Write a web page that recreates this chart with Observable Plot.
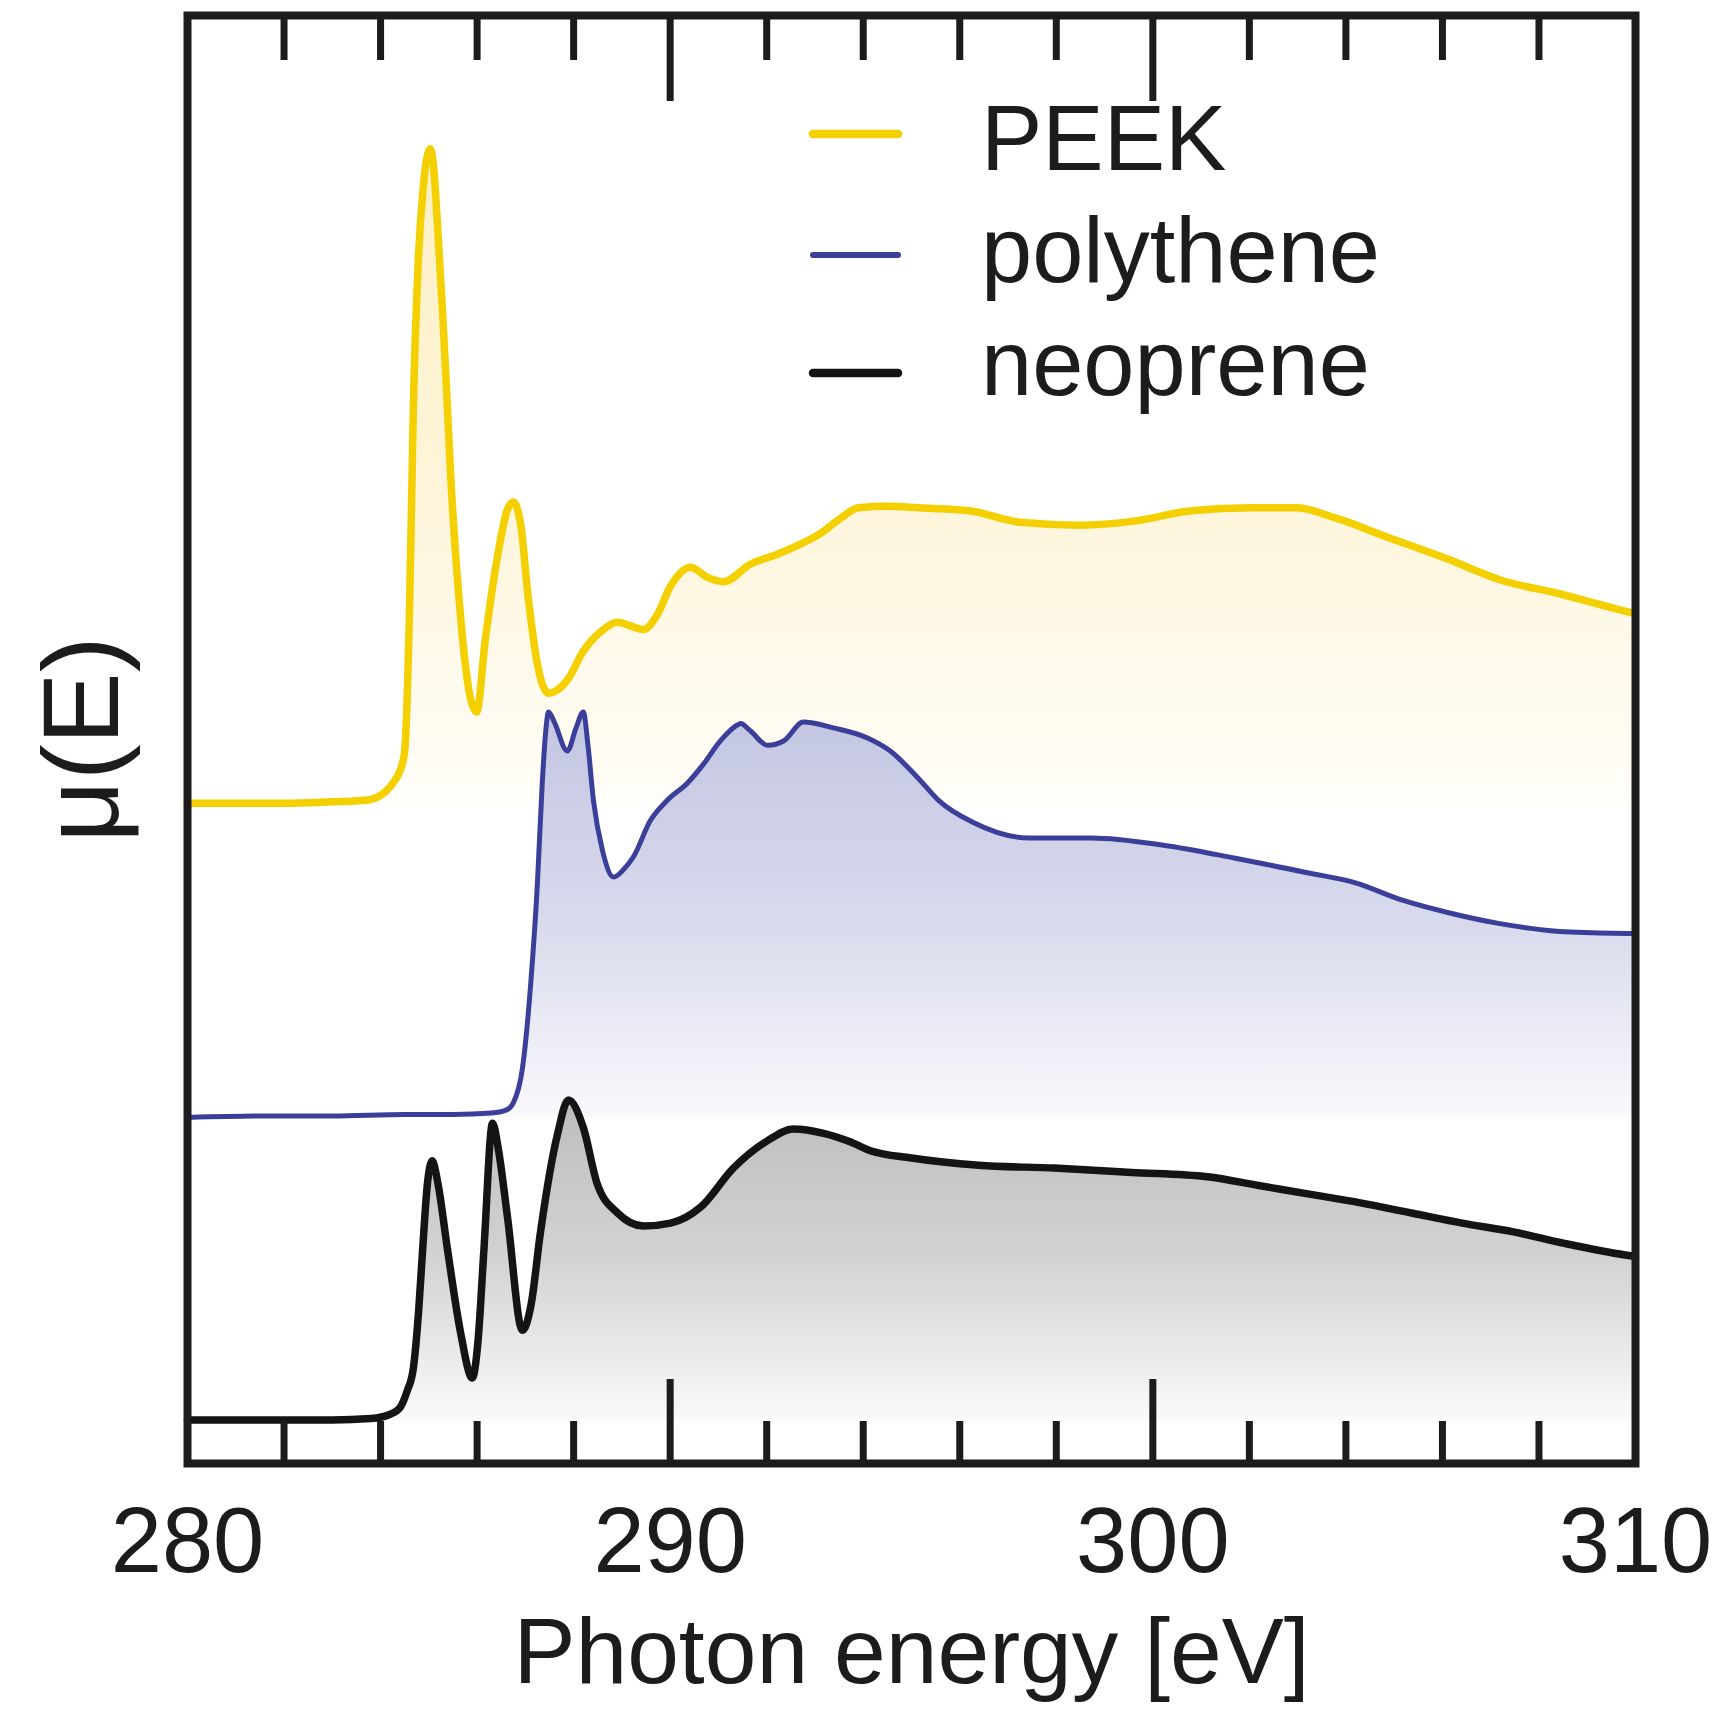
<!DOCTYPE html>
<html>
<head>
<meta charset="utf-8">
<script src="https://cdn.jsdelivr.net/npm/d3@7"></script>
<script src="https://cdn.jsdelivr.net/npm/@observablehq/plot@0.6"></script>
<style>
  html, body { margin: 0; padding: 0; background: #fff; }
  #chart { width: 1722px; height: 1712px; }
</style>
</head>
<body>
<div id="chart"></div>
<script>
// C K-edge absorption spectra, vertically offset (arbitrary units)
const seriesNames = ["PEEK", "polythene", "neoprene"];

const peekEnergy = [280.0, 281.0, 282.0, 283.0, 283.7, 284.1, 284.3, 284.42, 284.5, 284.6, 284.68, 284.78, 284.88, 284.96, 285.03, 285.1, 285.18, 285.28, 285.37, 285.45, 285.55, 285.66, 285.77, 285.86, 285.99, 286.17, 286.42, 286.62, 286.75, 286.9, 287.06, 287.25, 287.48, 287.87, 288.2, 288.62, 288.9, 289.45, 289.73, 290.01, 290.42, 290.77, 291.11, 291.66, 292.22, 292.7, 293.1, 293.5, 293.9, 294.5, 295.16, 296.2, 297.24, 298.5, 299.64, 300.8, 302.06, 302.97, 303.78, 304.92, 306.08, 307.22, 308.38, 309.87, 310.0];
const peekMu = [4.56, 4.56, 4.56, 4.57, 4.58, 4.64, 4.72, 4.8, 4.92, 5.9, 7.3, 8.3, 8.8, 9.02, 9.08, 8.95, 8.55, 7.98, 7.4, 6.84, 6.3, 5.84, 5.48, 5.29, 5.19, 5.69, 6.26, 6.58, 6.64, 6.49, 5.98, 5.52, 5.32, 5.41, 5.61, 5.76, 5.81, 5.76, 5.86, 6.06, 6.19, 6.12, 6.09, 6.21, 6.28, 6.35, 6.42, 6.52, 6.6, 6.61, 6.6, 6.58, 6.5, 6.48, 6.51, 6.58, 6.6, 6.6, 6.53, 6.39, 6.25, 6.1, 6.01, 5.88, 5.87];

const polytheneEnergy = [280.0, 281.5, 283.0, 284.5, 285.5, 286.3, 286.6, 286.75, 286.94, 287.11, 287.25, 287.35, 287.42, 287.48, 287.6, 287.87, 288.05, 288.2, 288.3, 288.41, 288.6, 288.83, 289.03, 289.24, 289.59, 289.94, 290.36, 290.69, 291.04, 291.39, 291.46, 291.66, 292.02, 292.35, 292.76, 293.38, 294.09, 294.56, 295.12, 295.56, 296.26, 297.44, 298.73, 300.22, 301.71, 303.2, 304.2, 305.17, 306.17, 307.16, 308.65, 309.83, 310.0];
const polytheneMu = [2.39, 2.4, 2.4, 2.41, 2.41, 2.42, 2.44, 2.49, 2.73, 3.31, 4.01, 4.7, 5.05, 5.19, 5.12, 4.92, 5.08, 5.19, 4.95, 4.58, 4.23, 4.05, 4.1, 4.19, 4.44, 4.58, 4.7, 4.83, 4.99, 5.1, 5.11, 5.06, 4.96, 4.99, 5.12, 5.08, 5.01, 4.92, 4.74, 4.58, 4.43, 4.32, 4.32, 4.27, 4.18, 4.08, 4.01, 3.89, 3.8, 3.73, 3.67, 3.66, 3.66];

const neopreneEnergy = [280.0, 281.5, 283.0, 283.8, 284.2, 284.41, 284.55, 284.68, 284.79, 284.87, 284.97, 285.07, 285.18, 285.39, 285.66, 285.9, 286.02, 286.14, 286.32, 286.45, 286.63, 286.94, 287.12, 287.31, 287.67, 287.89, 288.2, 288.49, 288.91, 289.45, 290.01, 290.63, 291.31, 292.02, 292.55, 293.18, 293.74, 294.15, 295.0, 296.39, 297.96, 299.56, 301.13, 302.19, 303.24, 304.3, 305.36, 306.41, 307.47, 308.53, 309.79, 310.0];
const neopreneMu = [0.3, 0.3, 0.3, 0.31, 0.34, 0.39, 0.5, 0.66, 1.06, 1.47, 1.93, 2.09, 1.95, 1.47, 0.9, 0.59, 0.85, 1.47, 2.35, 2.15, 1.7, 0.92, 1.1, 1.59, 2.28, 2.51, 2.32, 1.93, 1.73, 1.64, 1.66, 1.77, 2.04, 2.23, 2.31, 2.28, 2.22, 2.16, 2.11, 2.06, 2.04, 2.01, 1.98, 1.92, 1.86, 1.8, 1.73, 1.66, 1.6, 1.52, 1.44, 1.43];

const xTickLabels = [280, 290, 300, 310];
const majorTicks = [290, 300];
const minorTicks = [282, 284, 286, 288, 292, 294, 296, 298, 302, 304, 306, 308];

// Layout
const W = 1722, H = 1712;
const margin = {top: 15, right: 87, bottom: 249, left: 187};
const innerH = H - margin.top - margin.bottom;
const font = "'Liberation Sans', Arial, Helvetica, sans-serif";
const ink = "#1c1c1c";

const rows = (energy, mu) => energy.map((e, i) => ({e, mu: mu[i]}));

const series = [
  {name: seriesNames[0], id: "peek", data: rows(peekEnergy, peekMu), stroke: "#f5d000", width: 7.5,
   stops: [[0, "#fcf0c4"], [0.55, "#fdf5db"], [1, "#fffdf8"]]},
  {name: seriesNames[1], id: "poly", data: rows(polytheneEnergy, polytheneMu), stroke: "#3b3f9a", width: 5,
   stops: [[0, "#c3c6e2"], [0.5, "#d7d9ec"], [1, "#f9f9fc"]]},
  {name: seriesNames[2], id: "neo", data: rows(neopreneEnergy, neopreneMu), stroke: "#141414", width: 7.5,
   stops: [[0, "#bdbdbd"], [0.5, "#d3d3d3"], [1, "#fafafa"]]}
];

const marks = [];
// shaded areas from each spectrum's pre-edge level up to the curve
for (const s of series) {
  marks.push(Plot.areaY(s.data, {
    x: "e", y1: s.data[0].mu, y2: "mu",
    fill: `url(#grad-${s.id})`, curve: "monotone-x"
  }));
}
for (const s of series) {
  marks.push(Plot.lineY(s.data, {
    x: "e", y: "mu", stroke: s.stroke, strokeWidth: s.width,
    curve: "monotone-x", strokeLinejoin: "round", strokeLinecap: "round"
  }));
}

// inward ticks on bottom and top edges
const tickStyle = {x: d => d, stroke: ink, strokeWidth: 7};
marks.push(
  Plot.ruleX(minorTicks, {...tickStyle, insetTop: innerH - 42}),
  Plot.ruleX(minorTicks, {...tickStyle, insetBottom: innerH - 45}),
  Plot.ruleX(majorTicks, {...tickStyle, insetTop: innerH - 84}),
  Plot.ruleX(majorTicks, {...tickStyle, insetBottom: innerH - 86}),
  Plot.frame({stroke: ink, strokeWidth: 8}),
  Plot.text(xTickLabels, {
    x: d => d, text: d => String(d), frameAnchor: "bottom", lineAnchor: "bottom",
    textAnchor: "middle", dy: 108, fontSize: 92, fill: ink
  }),
  Plot.text(["Photon energy [eV]"], {
    frameAnchor: "bottom", lineAnchor: "bottom", textAnchor: "middle",
    dy: 219, fontSize: 93, fill: ink
  }),
  Plot.text(["μ(E)"], {
    frameAnchor: "left", rotate: -90, lineAnchor: "middle", textAnchor: "middle",
    dx: -104, fontSize: 108, fill: ink
  })
);

const chart = Plot.plot({
  width: W, height: H,
  marginTop: margin.top, marginRight: margin.right, marginBottom: margin.bottom, marginLeft: margin.left,
  x: {domain: [280, 310], axis: null},
  y: {domain: [0, 10], axis: null},
  style: {fontFamily: font, background: "#fff", overflow: "visible"},
  marks
});

// vertical gradients for the shaded areas
const svg = d3.select(chart);
const defs = svg.insert("defs", ":first-child");
for (const s of series) {
  const g = defs.append("linearGradient").attr("id", `grad-${s.id}`)
    .attr("x1", 0).attr("y1", 0).attr("x2", 0).attr("y2", 1);
  for (const [o, c] of s.stops) g.append("stop").attr("offset", o).attr("stop-color", c);
}

// legend in the upper right of the frame
const legend = svg.append("g")
  .attr("font-family", font).attr("font-size", 92).attr("fill", ink).attr("text-anchor", "start");
const legendLineX = [813, 898], legendTextX = 981;
const legendLineY = [134, 255, 373], legendTextY = [170, 282, 395];
series.forEach((s, i) => {
  legend.append("line")
    .attr("x1", legendLineX[0]).attr("x2", legendLineX[1])
    .attr("y1", legendLineY[i]).attr("y2", legendLineY[i])
    .attr("stroke", s.stroke).attr("stroke-width", s.width + 1).attr("stroke-linecap", "round");
  legend.append("text").attr("x", legendTextX).attr("y", legendTextY[i]).text(s.name);
});

document.getElementById("chart").appendChild(chart);
</script>
</body>
</html>
